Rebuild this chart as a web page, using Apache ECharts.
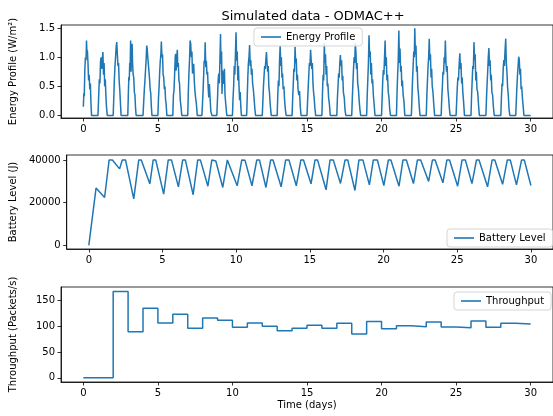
<!DOCTYPE html>
<html>
<head>
<meta charset="utf-8">
<script src="https://cdn.jsdelivr.net/npm/echarts@6/dist/echarts.min.js"></script>
<style>html,body{margin:0;padding:0;background:#fff}#c{width:553px;height:416px}</style>
</head>
<body>
<div id="c"></div>
<script>
// ---- Data ----
const xTicks = [0, 5, 10, 15, 20, 25, 30];
const energyTicks = [0, 0.5, 1.0, 1.5];
const batteryTicks = [0, 20000, 40000];
const throughputTicks = [0, 50, 100, 150];

// Energy profile [time (days), W/m2]
const energyProfile = [
[0,0.15],[0.03,0.38],[0.06,0.33],[0.1,0.8],[0.14,1.0],[0.18,0.95],[0.21,1.29],[0.24,1.08],[0.27,1.12],[0.31,0.9],[0.35,0.6],[0.39,0.7],[0.43,0.45],[0.47,0.55],[0.51,0.2],[0.55,0],
[0.98,0],[1.03,0.35],[1.07,0.62],[1.11,0.55],[1.15,0.92],[1.19,1.0],[1.23,0.8],[1.27,0.95],[1.31,1.09],[1.35,0.7],[1.39,0.9],[1.43,0.5],[1.47,0.62],[1.51,0.35],[1.55,0.15],[1.6,0],
[2.0,0],[2.04,0.3],[2.08,0.62],[2.12,0.85],[2.16,1.0],[2.2,1.18],[2.24,1.26],[2.28,1.05],[2.32,0.85],[2.36,0.9],[2.4,0.6],[2.44,0.45],[2.48,0.25],[2.53,0],
[2.98,0],[3.02,0.4],[3.05,0.66],[3.08,0.6],[3.11,0.9],[3.14,0.85],[3.17,1.29],[3.2,0.75],[3.23,1.1],[3.27,1.23],[3.3,0.9],[3.34,0.7],[3.38,0.65],[3.42,0.4],[3.46,0.35],[3.5,0.12],[3.54,0],
[4.0,0],[4.05,0.25],[4.09,0.45],[4.13,0.6],[4.17,0.78],[4.21,0.95],[4.25,1.2],[4.28,1.15],[4.32,1.0],[4.36,0.88],[4.4,0.75],[4.44,0.62],[4.48,0.45],[4.52,0.38],[4.56,0.15],[4.6,0],
[5.0,0],[5.04,0.3],[5.08,0.5],[5.12,0.75],[5.16,0.94],[5.2,1.05],[5.23,1.27],[5.27,1.0],[5.31,1.05],[5.35,0.7],[5.39,0.66],[5.43,0.45],[5.47,0.5],[5.51,0.28],[5.55,0.2],[5.6,0],
[6.0,0],[6.04,0.35],[6.08,0.43],[6.12,0.7],[6.16,1.0],[6.19,1.06],[6.22,0.77],[6.26,0.95],[6.3,1.13],[6.33,0.83],[6.37,0.9],[6.41,0.6],[6.45,0.55],[6.5,0.26],[6.55,0.15],[6.6,0],
[7.0,0],[7.04,0.4],[7.08,0.72],[7.12,0.95],[7.16,1.29],[7.2,1.23],[7.24,1.0],[7.28,1.1],[7.32,0.72],[7.36,0.8],[7.4,0.89],[7.44,0.6],[7.48,0.43],[7.53,0.3],[7.58,0.2],[7.64,0],
[7.95,0],[7.99,0.2],[8.03,0.43],[8.07,0.7],[8.1,0.94],[8.14,0.9],[8.17,1.26],[8.21,0.83],[8.25,0.94],[8.29,0.7],[8.33,0.75],[8.37,0.49],[8.41,0.31],[8.45,0.54],[8.5,0.3],[8.55,0.07],[8.62,0],
[8.95,0],[9.0,0.3],[9.04,0.6],[9.08,0.72],[9.12,0.55],[9.16,0.95],[9.2,1.4],[9.23,0.89],[9.27,1.1],[9.3,0.37],[9.34,0.77],[9.38,0.6],[9.42,0.54],[9.46,0.8],[9.5,0.35],[9.55,0.2],[9.62,0],
[10.0,0],[10.04,0.3],[10.08,0.5],[10.12,0.85],[10.16,0.7],[10.2,1.05],[10.24,1.43],[10.28,0.94],[10.32,1.1],[10.36,0.6],[10.4,0.85],[10.44,0.5],[10.48,0.26],[10.52,0.4],[10.56,0.15],[10.6,0],
[10.95,0],[10.99,0.3],[11.03,0.65],[11.07,0.9],[11.11,1.0],[11.15,1.21],[11.19,0.85],[11.23,0.95],[11.27,0.7],[11.31,0.8],[11.35,0.55],[11.4,0.45],[11.45,0.3],[11.5,0.12],[11.55,0],
[12.0,0],[12.04,0.25],[12.08,0.5],[12.12,0.68],[12.16,0.85],[12.2,0.8],[12.24,0.95],[12.28,1.09],[12.32,0.9],[12.36,0.75],[12.4,0.85],[12.44,0.5],[12.48,0.4],[12.53,0.2],[12.6,0],
[13.0,0],[13.04,0.35],[13.08,0.6],[13.12,0.5],[13.16,0.95],[13.2,1.2],[13.24,0.85],[13.28,1.0],[13.32,0.65],[13.36,0.72],[13.4,0.45],[13.45,0.5],[13.5,0.25],[13.55,0.1],[13.6,0],
[14.0,0],[14.04,0.3],[14.08,0.55],[14.12,0.8],[14.16,0.75],[14.2,1.18],[14.24,0.9],[14.28,0.98],[14.32,0.6],[14.36,0.7],[14.4,0.45],[14.45,0.35],[14.5,0.42],[14.55,0.15],[14.6,0],
[15.0,0],[15.04,0.25],[15.08,0.48],[15.12,0.7],[15.16,0.9],[15.2,0.85],[15.24,1.13],[15.28,0.95],[15.32,0.8],[15.36,0.9],[15.4,0.55],[15.44,0.4],[15.48,0.3],[15.53,0.12],[15.58,0],
[16.0,0],[16.04,0.4],[16.08,0.7],[16.12,0.6],[16.16,1.24],[16.2,0.9],[16.24,1.05],[16.28,0.7],[16.32,0.85],[16.36,0.5],[16.4,0.55],[16.45,0.3],[16.5,0.2],[16.56,0],
[17.0,0],[17.04,0.3],[17.08,0.5],[17.12,0.72],[17.16,0.65],[17.2,0.9],[17.24,1.04],[17.28,0.85],[17.32,0.95],[17.36,0.6],[17.4,0.68],[17.44,0.4],[17.5,0.3],[17.55,0.1],[17.6,0],
[18.0,0],[18.04,0.3],[18.08,0.55],[18.12,0.8],[18.16,1.0],[18.2,0.9],[18.24,1.24],[18.28,1.1],[18.32,0.8],[18.36,0.9],[18.4,0.55],[18.45,0.45],[18.5,0.25],[18.55,0.1],[18.6,0],
[19.0,0],[19.04,0.35],[19.08,0.62],[19.12,0.9],[19.16,1.38],[19.2,1.0],[19.24,1.1],[19.28,0.7],[19.32,0.9],[19.36,0.55],[19.4,0.62],[19.45,0.35],[19.5,0.2],[19.56,0],
[20.0,0],[20.04,0.3],[20.08,0.6],[20.12,0.78],[20.16,0.7],[20.2,1.0],[20.24,1.29],[20.28,0.85],[20.32,1.0],[20.36,0.6],[20.4,0.7],[20.45,0.4],[20.5,0.3],[20.55,0.1],[20.6,0],
[21.0,0],[21.04,0.4],[21.08,0.7],[21.12,0.95],[21.16,1.46],[21.2,0.9],[21.24,1.15],[21.28,0.75],[21.32,0.85],[21.36,0.5],[21.4,0.6],[21.45,0.35],[21.5,0.25],[21.56,0],
[22.0,0],[22.04,0.3],[22.08,0.62],[22.12,0.85],[22.16,1.1],[22.2,1.0],[22.23,1.5],[22.27,1.05],[22.31,1.2],[22.35,0.75],[22.39,0.85],[22.43,0.5],[22.48,0.35],[22.53,0.15],[22.58,0],
[23.0,0],[23.04,0.35],[23.08,0.6],[23.12,0.85],[23.16,1.0],[23.2,1.32],[23.24,0.95],[23.28,1.05],[23.32,0.65],[23.36,0.8],[23.4,0.5],[23.45,0.4],[23.5,0.2],[23.56,0],
[24.0,0],[24.04,0.3],[24.08,0.5],[24.12,0.75],[24.16,0.7],[24.2,1.0],[24.24,0.9],[24.28,1.29],[24.32,0.9],[24.36,0.75],[24.4,0.85],[24.45,0.45],[24.5,0.3],[24.55,0.12],[24.6,0],
[25.0,0],[25.04,0.25],[25.08,0.48],[25.12,0.65],[25.16,0.6],[25.2,0.85],[25.25,1.07],[25.29,0.8],[25.33,0.9],[25.37,0.55],[25.41,0.65],[25.45,0.4],[25.5,0.25],[25.56,0],
[26.0,0],[26.04,0.35],[26.08,0.6],[26.12,0.85],[26.16,0.8],[26.2,1.26],[26.24,0.95],[26.28,1.05],[26.32,0.6],[26.36,0.75],[26.4,0.45],[26.45,0.4],[26.5,0.2],[26.56,0],
[27.0,0],[27.04,0.3],[27.08,0.55],[27.12,0.75],[27.16,1.0],[27.2,1.16],[27.24,0.85],[27.28,0.95],[27.32,0.6],[27.36,0.7],[27.4,0.4],[27.45,0.35],[27.5,0.15],[27.56,0],
[28.0,0],[28.04,0.3],[28.08,0.55],[28.12,0.5],[28.16,0.8],[28.2,0.95],[28.24,0.85],[28.28,1.1],[28.33,1.32],[28.37,0.9],[28.41,0.75],[28.45,0.5],[28.5,0.35],[28.55,0.12],[28.6,0],
[29.0,0],[29.04,0.25],[29.08,0.5],[29.12,0.7],[29.16,0.85],[29.2,1.01],[29.24,0.95],[29.28,0.7],[29.32,0.8],[29.36,0.45],[29.4,0.5],[29.45,0.3],[29.5,0.15],[29.55,0],[30,0]
];

// Battery level [time (days), J]
const batteryLevel = [
[0,0],[0.04,600],[0.49,26800],[1.07,22400],[1.38,40000],[1.6,40000],[2.09,35800],[2.27,40000],[2.49,40000],
[3.05,21800],[3.39,40000],[3.56,40000],[4.14,28800],[4.37,40000],[4.54,40000],[5.08,24000],[5.39,40000],[5.61,40000],
[6.08,27400],[6.37,40000],[6.55,40000],[7.08,23700],[7.39,40000],[7.57,40000],[8.08,27700],[8.35,40000],[8.62,39500],
[9.09,27100],[9.4,40000],[9.53,40000],[10.07,27900],[10.38,40000],[10.6,39800],[11.07,27900],[11.4,40000],[11.58,40000],
[12.02,27100],[12.34,40000],[12.5,40000],[13.05,27400],[13.36,40000],[13.58,40000],[14.08,27900],[14.39,40000],[14.57,40000],
[15.08,28800],[15.35,40000],[15.52,40000],[16.1,26000],[16.37,40000],[16.59,40000],[17.08,29000],[17.39,40000],[17.57,40000],
[18.06,25700],[18.33,40000],[18.6,40000],[19.04,28300],[19.31,40000],[19.58,40000],[20.02,28000],[20.33,40000],[20.5,40000],
[21.05,27700],[21.32,40000],[21.55,40000],[22.03,28950],[22.3,40000],[22.52,40000],[23.06,29900],[23.32,40000],[23.5,40000],
[24.03,29260],[24.3,40000],[24.48,40000],[25.03,27700],[25.33,40000],[25.55,40000],[26.0,28950],[26.31,40000],[26.48,40000],
[27.06,27400],[27.37,40000],[27.55,40000],[28.08,28600],[28.4,40000],[28.6,40000],[29.02,28300],[29.37,40000],[29.55,40000],[30.0,28000]
];

// Throughput per day (packets/s), day 0..29, held until next day; last value held to day 30
const throughputDays = [0,1,2,3,4,5,6,7,8,9,10,11,12,13,14,15,16,17,18,19,20,21,22,23,24,25,26,27,28,29,30];
const throughputValues = [0,0,167.5,89.5,135,106.5,123,96,116,111.5,98,106.5,100,91.5,96,102,96,106,85,109,95,101,99,108,98.5,97,110,98,106,104.5,104.5];

// ---- Chart ----
const C = '#1f77b4';
const FONT = 'DejaVu Sans';
const chart = echarts.init(document.getElementById('c'), null, {renderer: 'canvas'});

function xAxisCfg(gridIndex, withName) {
  return {
    type: 'value', gridIndex, min: -1.5, max: 31.5,
    axisLine: {show: true, onZero: false, lineStyle: {color: '#000', width: 0.8}},
    axisTick: {show: true, length: 3.5, inside: false, customValues: xTicks, lineStyle: {color: '#000', width: 0.8}},
    axisLabel: {customValues: xTicks, margin: 6, fontFamily: FONT, fontSize: 10, color: '#000'},
    splitLine: {show: false},
    name: withName ? 'Time (days)' : '',
    nameLocation: 'middle', nameGap: 18,
    nameTextStyle: {fontFamily: FONT, fontSize: 10, color: '#000'}
  };
}
function yAxisCfg(gridIndex, min, max, ticks, name, gap, fmt) {
  return {
    type: 'value', gridIndex, min, max,
    axisLine: {show: true, onZero: false, lineStyle: {color: '#000', width: 0.8}},
    axisTick: {show: true, length: 3.5, customValues: ticks, lineStyle: {color: '#000', width: 0.8}},
    axisLabel: {customValues: ticks, margin: 6, fontFamily: FONT, fontSize: 10, color: '#000', formatter: fmt},
    splitLine: {show: false},
    name, nameLocation: 'middle', nameGap: gap,
    nameTextStyle: {fontFamily: FONT, fontSize: 10, color: '#000'}
  };
}
function legendCfg(name, left, top) {
  return {
    data: [name], left, top, orient: 'vertical',
    icon: 'rect', itemWidth: 20, itemHeight: 1.6,
    textStyle: {fontFamily: FONT, fontSize: 10, color: '#000'},
    backgroundColor: 'rgba(255,255,255,0.8)', borderColor: '#d5d5d5', borderWidth: 1, borderRadius: 3,
    padding: [4, 7, 4, 7]
  };
}

const option = {
  animation: false,
  backgroundColor: '#fff',
  title: {
    text: 'Simulated data - ODMAC++', left: 308, top: 5, textAlign: 'center',
    textStyle: {fontFamily: FONT, fontSize: 13, fontWeight: 'normal', color: '#000'}
  },
  grid: [
    {left: 61, top: 25, width: 494, height: 93, show: true, borderColor: '#000', borderWidth: 0.8, backgroundColor: 'transparent'},
    {left: 61, top: 155, width: 494, height: 94, show: true, borderColor: '#000', borderWidth: 0.8, backgroundColor: 'transparent'},
    {left: 61, top: 287, width: 494, height: 95, show: true, borderColor: '#000', borderWidth: 0.8, backgroundColor: 'transparent'}
  ],
  xAxis: [xAxisCfg(0, false), xAxisCfg(1, false), xAxisCfg(2, true)],
  yAxis: [
    yAxisCfg(0, -0.045, 1.555, energyTicks, 'Energy Profile (W/m²)', 43, v => v.toFixed(1)),
    yAxisCfg(1, -1700, 42300, batteryTicks, 'Battery Level (J)', 41, v => String(v)),
    yAxisCfg(2, -8, 176, throughputTicks, 'Throughput (Packets/s)', 43, v => String(v))
  ],
  legend: [
    legendCfg('Energy Profile', 254, 28),
    legendCfg('Battery Level', 447, 229),
    legendCfg('Throughput', 454, 292)
  ],
  series: [
    {name: 'Energy Profile', type: 'line', xAxisIndex: 0, yAxisIndex: 0, data: energyProfile,
     showSymbol: false, symbol: 'none', lineStyle: {color: C, width: 1.5}, itemStyle: {color: C}},
    {name: 'Battery Level', type: 'line', xAxisIndex: 1, yAxisIndex: 1, data: batteryLevel,
     showSymbol: false, symbol: 'none', lineStyle: {color: C, width: 1.5}, itemStyle: {color: C}},
    {name: 'Throughput', type: 'line', step: 'end', xAxisIndex: 2, yAxisIndex: 2,
     data: throughputDays.map((d, i) => [d, throughputValues[i]]),
     showSymbol: false, symbol: 'none', lineStyle: {color: C, width: 1.5}, itemStyle: {color: C}}
  ]
};
chart.setOption(option);
</script>
</body>
</html>
